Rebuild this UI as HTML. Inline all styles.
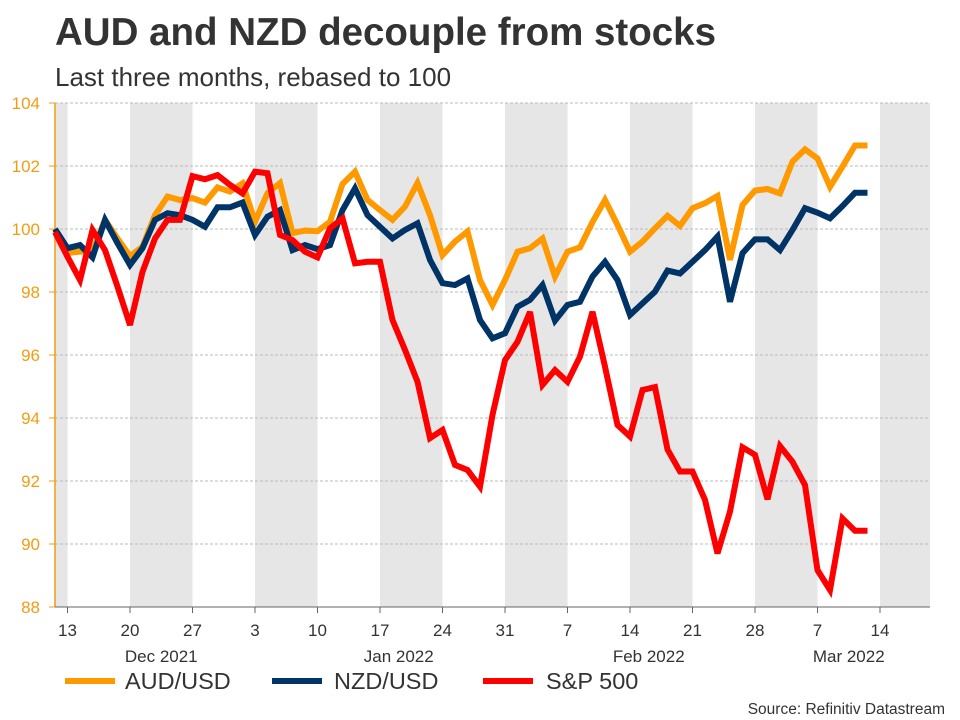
<!DOCTYPE html>
<html><head><meta charset="utf-8"><style>
body{margin:0;background:#fff;font-family:"Liberation Sans",Arial,sans-serif}
svg{display:block}
</style></head><body>
<svg id="chart" width="960" height="720" xmlns="http://www.w3.org/2000/svg" font-family="Liberation Sans, Arial, sans-serif">
<text x="55" y="45" font-size="38.5" font-weight="bold" fill="#333">AUD and NZD decouple from stocks</text>
<text x="55" y="86" font-size="26" fill="#333">Last three months, rebased to 100</text>
<g id="bands"></g><g id="grid"></g><g id="axes"></g><g id="lines"></g>
<g>
<line x1="65" y1="681" x2="115" y2="681" stroke="#ff9900" stroke-width="6"/>
<text x="125" y="689" font-size="23.5" fill="#333">AUD/USD</text>
<line x1="272" y1="681" x2="322" y2="681" stroke="#003366" stroke-width="6"/>
<text x="334" y="689" font-size="23.5" fill="#333">NZD/USD</text>
<line x1="483" y1="681" x2="533" y2="681" stroke="#ff0000" stroke-width="6"/>
<text x="546" y="689" font-size="23.5" fill="#333">S&amp;P 500</text>
</g>
<text x="945" y="714" font-size="15.5" fill="#333" text-anchor="end">Source: Refinitiv Datastream</text>
</svg>
<script>
const aud=[100,99.24,99.28,99.3,100.29,99.7,99.14,99.44,100.44,101.03,100.92,100.98,100.84,101.32,101.19,101.45,100.23,101.14,101.46,99.87,99.95,99.93,100.23,101.43,101.82,100.92,100.6,100.29,100.71,101.46,100.44,99.17,99.6,99.92,98.38,97.59,98.38,99.28,99.39,99.7,98.49,99.28,99.42,100.22,100.92,100.13,99.28,99.6,100.02,100.42,100.1,100.66,100.82,101.05,99.02,100.76,101.22,101.27,101.13,102.14,102.53,102.24,101.34,101.98,102.65,102.65];
const nzd=[100,99.39,99.49,99.1,100.29,99.55,98.86,99.39,100.29,100.5,100.44,100.29,100.07,100.69,100.69,100.84,99.81,100.39,100.6,99.33,99.49,99.36,99.49,100.6,101.29,100.44,100.07,99.7,99.97,100.18,99.02,98.28,98.22,98.43,97.11,96.53,96.69,97.53,97.75,98.22,97.09,97.59,97.69,98.49,98.96,98.38,97.27,97.64,98.01,98.68,98.59,98.96,99.33,99.76,97.69,99.23,99.67,99.67,99.33,99.97,100.66,100.52,100.34,100.73,101.15,101.15];
const spx=[99.9,99.12,98.38,99.97,99.33,98.17,96.95,98.64,99.7,100.29,100.29,101.68,101.58,101.71,101.4,101.13,101.82,101.77,99.81,99.65,99.28,99.1,100.02,100.34,98.91,98.96,98.96,97.11,96.16,95.15,93.36,93.62,92.51,92.35,91.82,94.1,95.84,96.42,97.37,95.05,95.52,95.15,95.95,97.37,95.63,93.78,93.41,94.89,94.98,93.0,92.3,92.3,91.4,89.7,91.03,93.07,92.83,91.42,93.11,92.61,91.87,89.17,88.54,90.81,90.42,90.42];
const yTicks=[88,90,92,94,96,98,100,102,104];
const dayLabels=["13","20","27","3","10","17","24","31","7","14","21","28","7","14"];
const monthLabels=["Dec 2021","Jan 2022","Feb 2022","Mar 2022"];
const monthTickIdx=[1.5,5.3,9.3,12.5];
const NS="http://www.w3.org/2000/svg";
const X0=55,X1=930,DX=12.5;
const x=i=>X0+i*DX;
const y=v=>229-(v-100)*31.5;
function mk(tag,attrs,parent){const e=document.createElementNS(NS,tag);for(const k in attrs)e.setAttribute(k,attrs[k]);parent.appendChild(e);return e;}
const bands=document.getElementById('bands'),grid=document.getElementById('grid'),axes=document.getElementById('axes'),lines=document.getElementById('lines');
for(let k=-1;k<14;k+=2){const a=Math.max(X0,x(1+5*k)),b=Math.min(X1,x(1+5*(k+1)));if(b<=a)continue;
const r=mk('rect',{x:a,y:y(104),width:b-a,height:y(88)-y(104),fill:'#e6e6e6'},bands);

}
yTicks.forEach(v=>{
if(v>88){const g=mk('line',{x1:X0,x2:X1,y1:y(v),y2:y(v),stroke:'#bbb','stroke-dasharray':'3,2','stroke-width':1},grid);

}
mk('line',{x1:X0-6,x2:X0,y1:y(v),y2:y(v),stroke:'#f39c12'},axes);
const t=mk('text',{x:X0-15,y:y(v)+6,'font-size':17,fill:'#f39c12','text-anchor':'end'},axes);t.textContent=v;

});
const ya=mk('line',{x1:X0,x2:X0,y1:y(104),y2:y(88),stroke:'#f39c12','stroke-width':1.5},axes);


const xa=mk('line',{x1:X0,x2:X1,y1:y(88),y2:y(88),stroke:'#666'},axes);


dayLabels.forEach((d,k)=>{const px=x(1+5*k);
mk('line',{x1:px,x2:px,y1:y(88),y2:y(88)+6,stroke:'#666'},axes);
const t=mk('text',{x:px,y:636,'font-size':17,fill:'#333','text-anchor':'middle'},axes);t.textContent=d;

});
monthLabels.forEach((m,k)=>{const t=mk('text',{x:x(1+5*monthTickIdx[k]),y:662,'font-size':17,fill:'#333','text-anchor':'middle'},axes);t.textContent=m;

});
[[aud,'#ff9900','aud-usd-line'],[nzd,'#003366','nzd-usd-line'],[spx,'#ff0000','sp500-line']].forEach(([s,c,n])=>{
const p=mk('polyline',{points:s.map((v,i)=>x(i)+','+y(v)).join(' '),fill:'none',stroke:c,'stroke-width':6,'stroke-linejoin':'miter','stroke-miterlimit':3},lines);

});
</script>
</body></html>
